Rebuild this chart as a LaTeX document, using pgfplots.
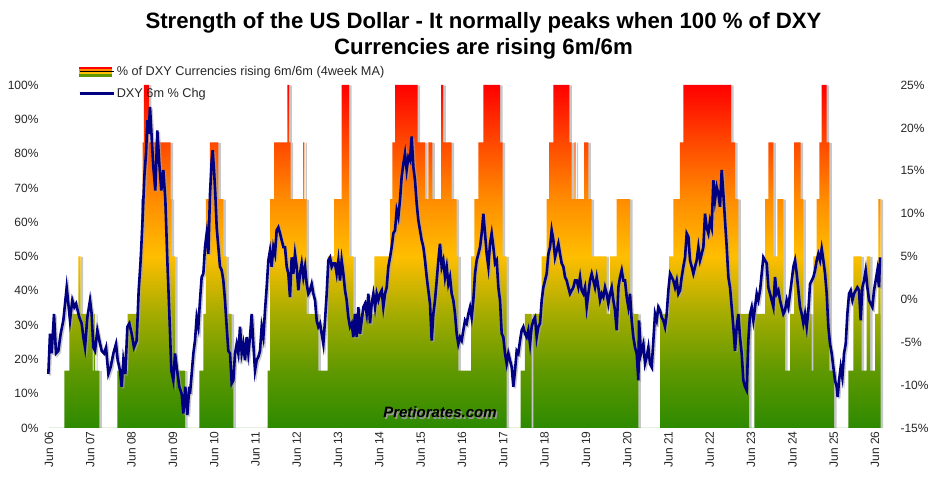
\documentclass[border=0pt]{standalone}
\usepackage{pgfplots}
\pgfplotsset{compat=1.18}
\usepackage{pgfplotstable}
\usepackage{fontspec}
\setmainfont{Liberation Sans}

\definecolor{g0}{RGB}{45,138,0}
\definecolor{g1}{RGB}{95,152,0}
\definecolor{g2}{RGB}{165,172,0}
\definecolor{g3}{RGB}{255,190,0}
\definecolor{g4}{RGB}{255,140,0}
\definecolor{g5}{RGB}{255,72,0}
\definecolor{g6}{RGB}{255,0,0}
\definecolor{navy}{RGB}{0,0,128}
\pgfdeclareverticalshading{dxy}{100bp}{color(0bp)=(g0); color(25bp)=(g0); color(33.3bp)=(g1); color(41.7bp)=(g2); color(50bp)=(g3); color(58.3bp)=(g4); color(66.7bp)=(g5); color(75bp)=(g6); color(100bp)=(g6)}

\pgfplotstableread{
x y
6.000 0
6.370 16.7
6.492 33.3
6.709 50
6.768 33.3
7.058 16.7
7.090 33.3
7.114 16.7
7.218 0
7.654 16.7
7.906 33.3
8.179 50
8.228 66.7
8.269 83.3
8.300 100
8.421 83.3
8.947 66.7
8.971 50
9.051 16.7
9.293 0
9.639 16.7
9.736 33.3
9.801 66.7
9.898 83.3
10.099 66.7
10.220 50
10.303 33.3
10.424 16.7
10.462 0
11.295 16.7
11.351 66.7
11.448 83.3
11.770 100
11.818 83.3
11.852 66.7
12.150 83.3
12.182 66.7
12.240 33.3
12.521 16.7
12.748 50
12.901 66.7
13.087 100
13.264 50
13.368 33.3
13.877 50
14.257 66.7
14.312 83.3
14.378 100
14.927 83.3
15.104 66.7
15.184 83.3
15.281 66.7
15.492 100
15.547 83.3
15.751 66.7
15.872 50
15.910 16.7
16.218 50
16.298 66.7
16.395 83.3
16.516 100
16.920 83.3
16.985 50
17.082 0
17.421 16.7
17.525 33.3
17.688 0
17.726 33.3
17.930 50
18.051 66.7
18.107 83.3
18.211 100
18.598 83.3
18.656 66.7
18.719 83.3
18.753 66.7
18.954 83.3
19.058 66.7
19.140 50
19.504 33.3
19.584 50
19.746 66.7
20.068 33.3
20.269 0
20.794 33.3
21.012 50
21.116 66.7
21.278 83.3
21.358 100
22.513 83.3
22.610 66.7
22.690 33.3
22.949 0
23.077 33.3
23.337 66.7
23.416 83.3
23.538 50
23.634 66.7
23.780 33.3
23.821 16.7
23.942 33.3
24.039 83.3
24.201 66.7
24.264 33.3
24.467 16.7
24.506 50
24.588 66.7
24.651 83.3
24.709 100
24.831 83.3
24.893 16.7
25.007 0
25.354 16.7
25.475 50
25.678 16.7
25.799 50
25.879 16.7
26.000 33.3
26.080 66.7
26.138 0
}\bars

\pgfplotstableread{
x y
5.984 -8.7
6.024 -4.0
6.064 -6.3
6.121 -1.7
6.169 -6.3
6.226 -6.0
6.282 -4.0
6.347 -2.45
6.428 1.4
6.468 -0.5
6.508 -2.45
6.565 -0.1
6.613 -0.9
6.654 -0.5
6.694 -1.3
6.734 -2.1
6.791 -2.8
6.831 -4.4
6.872 -5.6
6.928 -2.1
6.993 -0.1
7.033 -1.7
7.073 -5.6
7.114 -6.0
7.170 -3.6
7.219 -4.8
7.275 -6.0
7.332 -6.3
7.380 -5.6
7.437 -8.7
7.493 -7.9
7.558 -6.3
7.622 -5.2
7.663 -7.1
7.719 -8.3
7.759 -10.2
7.800 -7.1
7.848 -8.7
7.897 -3.2
7.945 -2.8
8.002 -4.0
8.058 -5.6
8.123 -4.8
8.171 1.05
8.219 4.55
8.268 9.6
8.308 14.3
8.349 17.0
8.381 20.9
8.413 19.3
8.445 22.45
8.494 18.2
8.526 15.45
8.574 12.7
8.623 19.7
8.671 15.8
8.720 12.7
8.768 15.1
8.817 11.6
8.865 4.55
8.914 -1.7
8.962 -8.3
9.010 -9.45
9.051 -6.3
9.091 -7.9
9.156 -10.2
9.212 -11.0
9.253 -13.3
9.301 -10.2
9.349 -13.5
9.398 -10.2
9.414 -11.0
9.454 -8.7
9.495 -6.3
9.535 -4.8
9.575 -2.1
9.616 -3.2
9.656 -0.1
9.696 2.6
9.737 3.0
9.777 6.1
9.818 7.7
9.858 5.3
9.898 12.3
9.939 16.2
9.963 17.4
9.995 15.1
10.027 12.3
10.060 8.4
10.100 6.1
10.140 3.8
10.181 3.4
10.221 2.2
10.261 -0.1
10.302 -3.2
10.342 -6.0
10.383 -6.3
10.423 -9.8
10.463 -9.45
10.504 -6.3
10.544 -5.2
10.584 -6.3
10.625 -3.2
10.665 -6.3
10.705 -5.2
10.746 -7.1
10.786 -4.4
10.826 -6.3
10.867 -4.4
10.907 -1.7
10.947 -5.2
10.988 -8.3
11.028 -7.1
11.069 -6.7
11.109 -6.0
11.149 -3.2
11.190 -4.4
11.230 -1.3
11.270 1.4
11.311 4.55
11.351 5.7
11.391 3.8
11.432 6.1
11.472 5.3
11.512 8.06
11.553 8.4
11.593 7.7
11.634 6.9
11.674 6.1
11.714 6.1
11.755 3.8
11.795 3.0
11.835 0.27
11.876 4.9
11.916 3.0
11.956 5.3
11.997 3.8
12.037 1.05
12.077 3.0
12.118 4.2
12.158 2.6
12.199 3.8
12.239 1.8
12.279 0.66
12.320 1.05
12.360 1.8
12.400 0.66
12.441 -0.1
12.481 -2.45
12.521 -3.2
12.562 -2.8
12.602 -4.0
12.642 -5.2
12.683 -2.45
12.723 0.66
12.763 4.55
12.804 4.9
12.844 3.8
12.885 4.2
12.925 4.2
12.965 3.0
13.006 4.55
13.046 2.2
13.086 4.55
13.127 3.0
13.167 1.05
13.207 -0.1
13.248 -2.1
13.288 -3.2
13.329 -2.8
13.369 -4.4
13.409 -1.7
13.450 -4.4
13.490 -0.9
13.530 -4.0
13.571 -2.45
13.611 -0.9
13.651 -0.5
13.692 -1.7
13.732 0.66
13.772 -2.8
13.813 -0.5
13.853 0.66
13.894 -0.9
13.934 0.66
13.974 -0.1
14.015 0.66
14.055 1.05
14.095 -0.9
14.136 0.66
14.176 1.4
14.216 3.8
14.257 4.9
14.297 6.1
14.337 7.7
14.378 8.06
14.418 10.4
14.458 9.6
14.499 11.6
14.539 14.3
14.580 15.8
14.620 17.0
14.660 15.1
14.701 16.6
14.741 16.2
14.781 19.0
14.822 15.45
14.862 13.9
14.902 11.2
14.943 9.2
14.983 8.06
15.023 6.9
15.064 6.1
15.104 4.55
15.145 2.6
15.185 1.05
15.225 -0.5
15.266 -4.8
15.306 -1.7
15.346 -0.1
15.387 2.2
15.427 4.55
15.467 6.5
15.508 3.8
15.548 4.55
15.588 2.6
15.629 3.8
15.669 1.8
15.709 2.6
15.750 0.66
15.790 -0.1
15.831 -1.7
15.871 -4.0
15.911 -5.2
15.952 -4.4
15.992 -4.8
16.032 -3.6
16.073 -2.45
16.113 -2.8
16.153 -1.7
16.194 -0.9
16.234 -2.1
16.274 -0.1
16.315 3.0
16.355 4.55
16.396 5.3
16.436 6.1
16.476 7.7
16.517 10.0
16.557 7.7
16.597 5.3
16.638 3.8
16.678 6.5
16.718 7.7
16.759 6.1
16.799 4.2
16.840 4.55
16.880 1.4
16.920 -0.1
16.961 -4.0
17.001 -4.4
17.041 -6.3
17.082 -7.5
17.122 -6.3
17.162 -7.1
17.203 -7.9
17.243 -10.2
17.283 -8.3
17.324 -6.0
17.364 -6.3
17.405 -4.8
17.445 -3.6
17.485 -3.2
17.526 -4.0
17.566 -4.4
17.606 -3.6
17.647 -5.2
17.687 -3.2
17.727 -2.45
17.768 -2.1
17.808 -4.4
17.848 -3.2
17.889 -2.8
17.929 -0.1
17.969 1.4
18.010 2.2
18.050 3.0
18.091 5.3
18.131 6.1
18.171 8.06
18.212 6.9
18.252 4.9
18.292 5.7
18.333 6.5
18.373 5.3
18.413 4.2
18.454 3.8
18.494 2.6
18.534 2.2
18.575 1.4
18.615 0.66
18.656 1.05
18.696 1.4
18.736 2.2
18.777 2.2
18.817 1.4
18.857 2.6
18.898 1.05
18.938 0.66
18.978 1.4
19.019 -0.9
19.059 0.66
19.099 2.2
19.140 3.0
19.180 2.2
19.220 1.4
19.261 2.6
19.301 1.4
19.342 -0.1
19.382 0.66
19.422 0.27
19.463 1.4
19.503 0.66
19.543 -0.5
19.584 0.66
19.624 1.4
19.664 -0.1
19.705 -1.3
19.745 -3.6
19.786 1.4
19.826 2.6
19.866 3.4
19.907 2.2
19.947 2.2
19.987 0.27
20.028 -0.9
20.068 0.66
20.108 -2.45
20.149 -4.4
20.189 -5.6
20.229 -6.3
20.270 -9.45
20.286 -2.45
20.334 -6.3
20.391 -5.2
20.431 -7.5
20.472 -6.7
20.512 -5.6
20.552 -7.5
20.593 -7.9
20.633 -4.8
20.673 -1.7
20.714 -2.45
20.754 -0.9
20.794 -1.3
20.835 -2.1
20.875 -2.45
20.916 -3.2
20.956 -1.7
20.996 1.05
21.037 3.0
21.077 2.6
21.117 2.2
21.158 1.4
21.198 2.2
21.238 0.66
21.279 1.05
21.319 2.6
21.359 3.8
21.400 4.9
21.440 7.7
21.481 7.3
21.521 4.55
21.561 3.8
21.602 3.0
21.642 3.8
21.682 4.55
21.723 6.1
21.763 4.55
21.803 5.3
21.844 6.1
21.884 10.0
21.924 8.4
21.965 7.7
22.005 9.2
22.045 8.4
22.086 13.9
22.126 11.6
22.167 13.1
22.207 12.3
22.247 10.8
22.288 15.1
22.328 12.3
22.368 9.2
22.409 6.1
22.449 2.6
22.489 1.4
22.530 -0.9
22.570 -3.2
22.610 -6.0
22.651 -3.2
22.691 -1.7
22.731 -4.4
22.772 -6.3
22.812 -9.45
22.853 -10.2
22.893 -10.6
22.933 -4.8
22.974 -1.7
23.014 -0.9
23.054 -2.45
23.095 -0.9
23.135 0.66
23.175 -0.1
23.216 1.05
23.256 3.0
23.296 4.9
23.337 4.55
23.377 4.2
23.417 1.4
23.458 0.66
23.498 -0.1
23.539 -0.9
23.579 2.6
23.619 0.66
23.660 1.05
23.700 -0.1
23.740 -0.9
23.781 -1.7
23.821 -1.3
23.862 -0.1
23.902 -0.9
23.942 0.66
23.983 2.2
24.023 3.8
24.063 4.55
24.104 3.0
24.144 1.05
24.184 -0.9
24.225 -1.7
24.265 -2.8
24.305 -1.7
24.346 -3.2
24.386 -1.3
24.427 1.8
24.467 2.2
24.507 2.6
24.548 3.4
24.588 4.55
24.628 5.3
24.669 4.55
24.709 5.9
24.749 4.55
24.790 3.0
24.830 0.66
24.870 -3.2
24.911 -5.2
24.951 -6.3
24.991 -7.9
25.032 -9.45
25.072 -10.2
25.096 -11.4
25.129 -9.45
25.169 -7.9
25.209 -9.1
25.250 -6.3
25.290 -5.2
25.330 -1.7
25.371 0.66
25.411 1.05
25.452 -0.1
25.492 0.66
25.532 1.05
25.573 1.4
25.613 1.05
25.653 -2.45
25.694 1.4
25.734 2.2
25.774 3.4
25.815 1.4
25.855 -0.1
25.895 -0.5
25.936 -0.9
25.976 1.05
26.016 2.2
26.057 3.4
26.097 1.4
26.121 4.9
}\dxy

\begin{document}
\begin{tikzpicture}
\path[use as bounding box] (0pt,0pt) rectangle (945pt,490pt);
\begin{axis}[
  at={(45pt,62pt)}, anchor=south west, scale only axis,
  width=840pt, height=343pt,
  xmin=5.903, xmax=26.242, ymin=0, ymax=100,
  axis line style={draw=none}, tick style={draw=none},
  /pgf/number format/assume math mode=true,
  xtick={6,...,26},
  xticklabels={Jun 06,Jun 07,Jun 08,Jun 09,Jun 10,Jun 11,Jun 12,Jun 13,Jun 14,Jun 15,Jun 16,Jun 17,Jun 18,Jun 19,Jun 20,Jun 21,Jun 22,Jun 23,Jun 24,Jun 25,Jun 26},
  xticklabel style={rotate=90, anchor=east, font=\fontsize{12}{12}\selectfont, text=black!85},
  ytick={0,10,...,100},
  yticklabel={\pgfmathprintnumber{\tick}\%},
  yticklabel style={font=\fontsize{12}{12}\selectfont, text=black!85, xshift=-3pt},
]
\addplot[const plot, draw=none, fill=black!22, xshift=2.5pt, yshift=-0.5pt, forget plot] table {\bars} \closedcycle;
\addplot[const plot, draw=none, shading=dxy, forget plot] table {\bars} \closedcycle;
\end{axis}
\begin{axis}[
  at={(45pt,62pt)}, anchor=south west, scale only axis,
  width=840pt, height=343pt,
  xmin=5.903, xmax=26.242, ymin=-15, ymax=25,
  axis line style={draw=none}, tick style={draw=none},
  /pgf/number format/assume math mode=true,
  xtick=\empty,
  ytick={-15,-10,...,25},
  yticklabel pos=right,
  yticklabel={\pgfmathprintnumber{\tick}\%},
  yticklabel style={font=\fontsize{12}{12}\selectfont, text=black!85, xshift=12pt},
  legend style={at={(axis description cs:0.0393,1.061)}, anchor=north west, draw=none, fill=none,
    font=\fontsize{12.7}{14}\selectfont, text=black!85, cells={anchor=west}, row sep=7pt, inner sep=0pt},
]
\addlegendimage{legend image code/.code={
  \fill[g6] (0pt,2.25pt) rectangle (32pt,4.5pt);
  \fill[g4] (0pt,0pt) rectangle (32pt,2.25pt);
  \fill[g3] (0pt,-2.25pt) rectangle (32pt,0pt);
  \fill[g1] (0pt,-4.5pt) rectangle (32pt,-2.25pt);
  \path (0pt,0pt) -- (34pt,0pt);}}
\addlegendentry{\% of DXY Currencies rising 6m/6m (4week MA)}
\addplot[black!35, opacity=0.6, line width=2.4pt, xshift=1.5pt, yshift=-1.5pt, forget plot] table {\dxy};
\addplot[navy, line width=2.6pt, legend image code/.code={\draw[navy, line width=2.2pt] (0pt,0pt) -- (32pt,0pt); \path (0pt,0pt) -- (34pt,0pt);}] table {\dxy};
\addlegendentry{DXY 6m \% Chg}
\end{axis}
\node[font=\bfseries\itshape\fontsize{15}{15}\selectfont, text=black!40, anchor=base] at (441.5pt,70.5pt) {Pretiorates.com};
\node[font=\bfseries\itshape\fontsize{15}{15}\selectfont, anchor=base] at (440pt,72pt) {Pretiorates.com};
\node[font=\bfseries\fontsize{22.2}{22}\selectfont, anchor=base] at (483.5pt,461pt) {Strength of the US Dollar - It normally peaks when 100 \% of DXY};
\node[font=\bfseries\fontsize{22.2}{22}\selectfont, anchor=base] at (483.5pt,435pt) {Currencies are rising 6m/6m};
\end{tikzpicture}
\end{document}
